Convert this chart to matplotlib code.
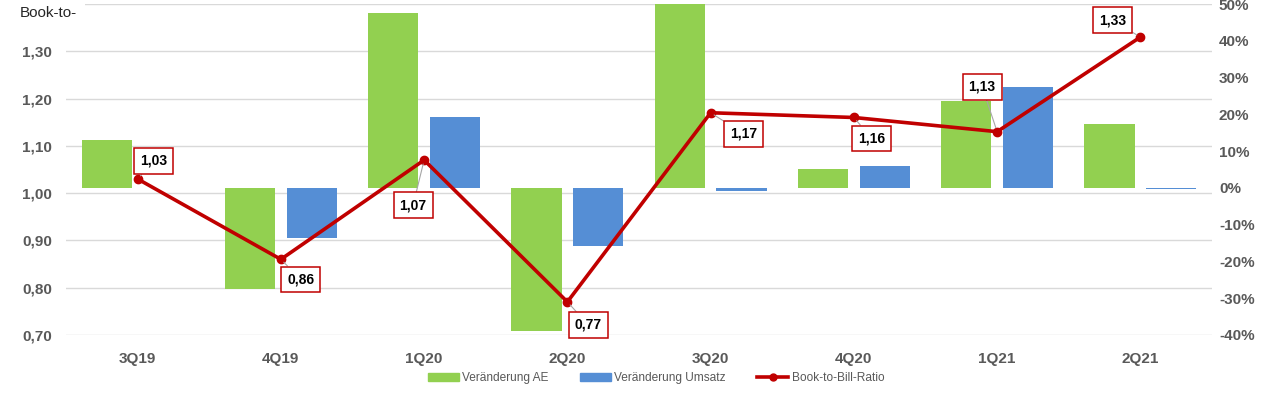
import matplotlib
matplotlib.use("Agg")
import matplotlib.pyplot as plt
from matplotlib.patches import Patch
from matplotlib.lines import Line2D
import numpy as np

categories = ["3Q19", "4Q19", "1Q20", "2Q20", "3Q20", "4Q20", "1Q21", "2Q21"]
ae_change = [13.0, -27.6, 47.5, -38.8, 50.0, 5.2, 23.6, 17.5]        # % Veränderung AE
umsatz_change = [None, -13.5, 19.4, -15.7, -0.8, 5.9, 27.4, -0.4]    # % Veränderung Umsatz
btb_ratio = [1.03, 0.86, 1.07, 0.77, 1.17, 1.16, 1.13, 1.33]
btb_labels = ["1,03", "0,86", "1,07", "0,77", "1,17", "1,16", "1,13", "1,33"]
left_ticks = [0.70, 0.80, 0.90, 1.00, 1.10, 1.20, 1.30, 1.40]
right_ticks = [-40, -30, -20, -10, 0, 10, 20, 30, 40, 50]

GREEN = "#92D050"
BLUE = "#558ED5"
RED = "#C00000"
GRAY = "#595959"
GRID = "#D9D9D9"
FONT = "Liberation Sans"

W, H = 1280, 398
fig = plt.figure(figsize=(W / 100, H / 100), dpi=100)
x0, x1, ytop, ybot = 66, 1212, 4, 335
rect = [x0 / W, 1 - ybot / H, (x1 - x0) / W, (ybot - ytop) / H]

ax = fig.add_axes(rect)
ax.set_zorder(1)
ax_bar = ax.twinx()
ax_bar.set_zorder(2)
ax_bar.patch.set_visible(False)
ax_line = ax.twinx()
ax_line.set_zorder(3)
ax_line.patch.set_visible(False)

x = np.arange(len(categories))
for a in (ax, ax_bar, ax_line):
    a.set_xlim(-0.5, len(categories) - 0.5)
    for s in a.spines.values():
        s.set_visible(False)
    a.tick_params(length=0)

# left axis: ratio
ax.set_ylim(0.70, 1.40)
ax.set_yticks(left_ticks)
ax.set_yticklabels([f"{v:.2f}".replace(".", ",") if v < 1.35 else "" for v in left_ticks],
                   fontfamily=FONT, fontweight="bold", fontsize=11, color=GRAY)
ax.tick_params(axis="y", pad=10)
ax.grid(axis="y", color=GRID, lw=1)
ax.set_axisbelow(True)
ax.set_xticks(x)
ax.set_xticklabels(categories, fontfamily=FONT, fontweight="bold", fontsize=11, color=GRAY)
ax.tick_params(axis="x", pad=12)

# right axis: percent bars
ax_bar.set_ylim(-40, 50)
ax_bar.set_yticks(right_ticks)
ax_bar.set_yticklabels([f"{v}%" for v in right_ticks],
                       fontfamily=FONT, fontweight="bold", fontsize=11, color=GRAY)
ax_bar.tick_params(axis="y", pad=5)
bw, off = 0.35, 0.216
ax_bar.bar(x - off, ae_change, width=bw, color=GREEN)
u = np.array([np.nan if v is None else v for v in umsatz_change])
ax_bar.bar(x + off, np.nan_to_num(u), width=bw, color=BLUE)

# line axis
ax_line.set_ylim(0.70, 1.40)
ax_line.set_yticks([])
ax_line.plot(x, btb_ratio, color=RED, lw=2.6, marker="o", ms=6, zorder=5)

offsets = [(16, 18), (20, -20), (-11, -45), (21, -23), (33, -21), (18, -21), (-15, 45), (-28, 17)]
for xi, yi, lab, (dx, dy) in zip(x, btb_ratio, btb_labels, offsets):
    ax_line.annotate(lab, xy=(xi, yi), xytext=(dx, dy), textcoords="offset pixels",
                     ha="center", va="center", fontfamily=FONT, fontweight="bold",
                     fontsize=10, color="black", zorder=6,
                     bbox=dict(boxstyle="square,pad=0.42", fc="white", ec=RED, lw=1.1),
                     arrowprops=dict(arrowstyle="-", color="#A6A6A6", lw=0.8,
                                     shrinkA=0, shrinkB=3))

fig.text(20 / W, 1 - 13 / H, "Book-to-", fontfamily=FONT, fontsize=11, zorder=10,
         color="#262626", ha="left", va="center",
         bbox=dict(boxstyle="square,pad=0.5", fc="white", ec="none"))

handles = [Patch(color=GREEN, label="Veränderung AE"),
           Patch(color=BLUE, label="Veränderung Umsatz"),
           Line2D([0], [0], color=RED, lw=2.6, marker="o", ms=5, label="Book-to-Bill-Ratio")]
fig.legend(handles=handles, loc="center", bbox_to_anchor=(656 / W, 1 - 378 / H), ncol=3,
           frameon=False, prop={"family": FONT, "size": 8.6}, labelcolor=GRAY,
           handlelength=2.6, handleheight=0.6, columnspacing=2.6, handletextpad=0.3)

fig.savefig("out.png", dpi=100)
